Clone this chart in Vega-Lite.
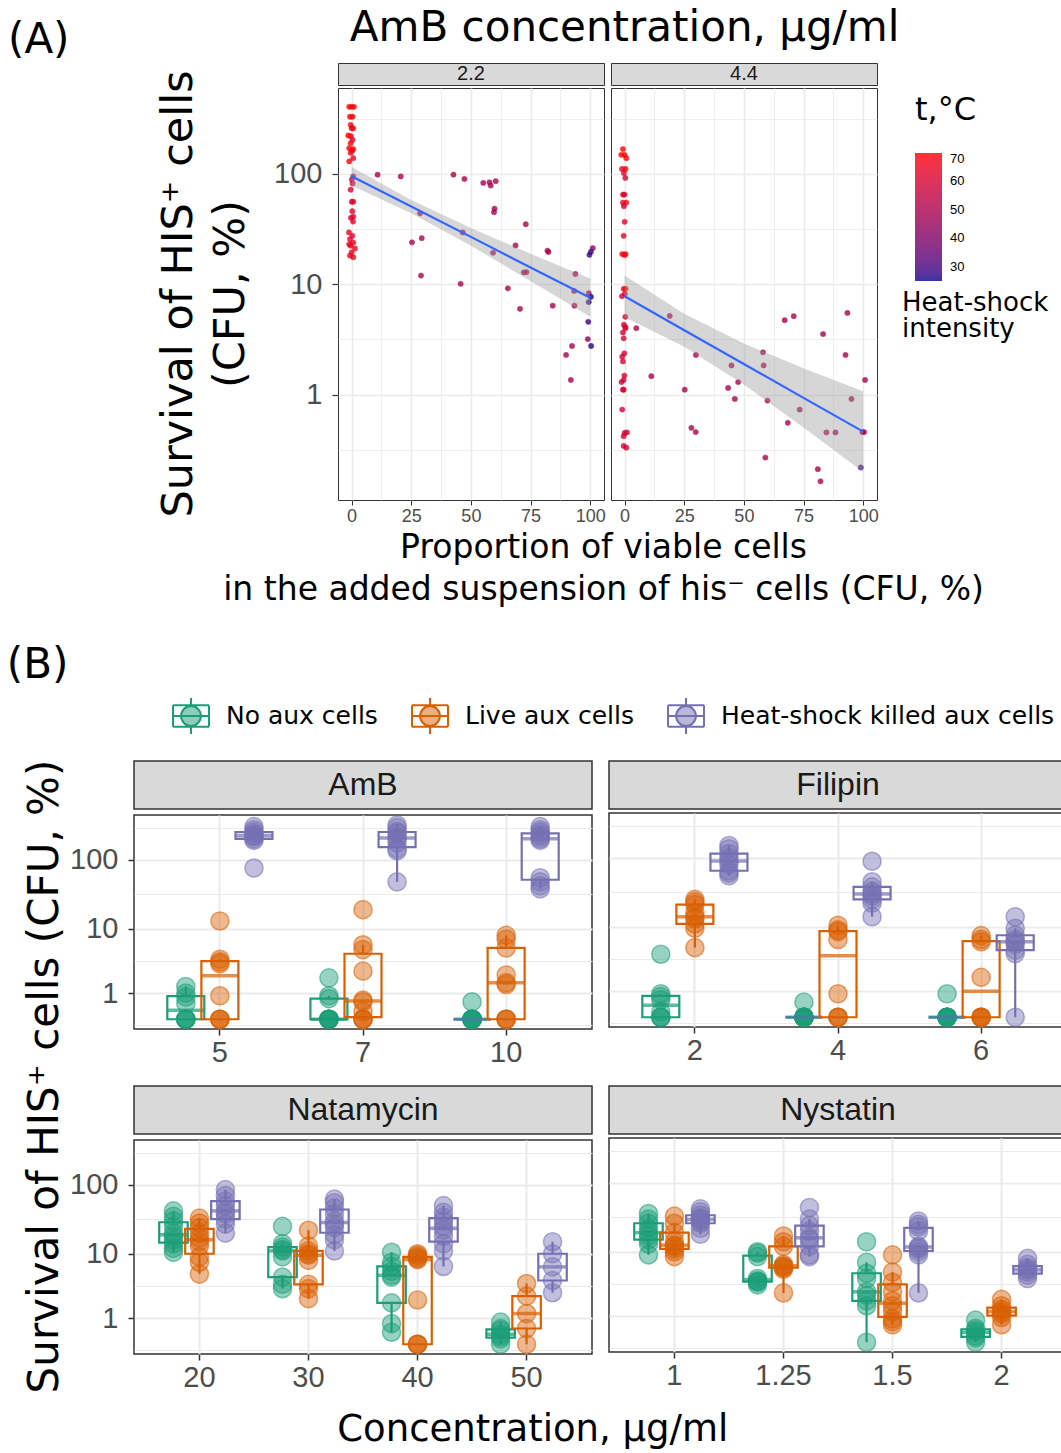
{
"$schema":"https://vega.github.io/schema/vega-lite/v6.json",
"background":"white",
"padding":{"left":6,"top":6,"right":0,"bottom":0},
"config":{"font":"DejaVu Sans","view":{"stroke":null},
"axis":{"labelFont":"Liberation Sans","titleFont":"DejaVu Sans","titleFontWeight":"normal","titleColor":"#000000"},
"title":{"font":"DejaVu Sans","fontWeight":"normal","color":"#000000"},
"legend":{"titleFontWeight":"normal","titleColor":"#000000","titleFont":"DejaVu Sans"}},
"align":"none",
"resolve":{"scale":{"fill":"independent","stroke":"independent"},"legend":{"fill":"independent","stroke":"independent"}},
"spacing":37,
"vconcat":[
{"title":{"text":"(A)","anchor":"start","frame":"group","fontSize":42,"offset":-55,"dx":-126},
"spacing":0,
"resolve":{"scale":{"fill":"independent","stroke":"independent"},"legend":{"fill":"independent","stroke":"independent"}},
"hconcat":[
{"width":24,"height":1,"data":{"values":[]},"mark":{"type":"point"},"encoding":{}},
{"title":{"text":"AmB concentration, µg/ml","anchor":"middle","frame":"bounds","fontSize":42,"offset":13,"dx":21},
"resolve":{"scale":{"fill":"independent","stroke":"independent"},"legend":{"fill":"independent","stroke":"independent"}},
"vconcat":[
{"title":{"text":["Proportion of viable cells","in the added suspension of his⁻ cells (CFU, %)"],"orient":"bottom","anchor":"middle","frame":"bounds","fontSize":33,"lineHeight":42,"offset":6},
"resolve":{"scale":{"fill":"independent","stroke":"independent"},"legend":{"fill":"independent","stroke":"independent"}},
"vconcat":[
{"title":{"text":["Survival of HIS⁺ cells","(CFU, %)"],"orient":"left","anchor":"middle","frame":"bounds","fontSize":43,"lineHeight":52,"offset":20},
"spacing":4,
"hconcat":[
{"spacing":1,"vconcat":[
{"width":266,"height":22,"view":{"fill":"#D9D9D9","stroke":"#333333","strokeWidth":1},"data":{"values":[{"label":"2.2"}]},"mark":{"type":"text","fontSize":20,"font":"Liberation Sans","color":"#1A1A1A"},"encoding":{"text":{"field":"label"}}},
{"width":266,"height":412,"view":{"stroke":"#333333","strokeWidth":1},
"encoding":{"x":{"field":"prop","type":"quantitative","scale":{"domain":[-5.7,105.8],"nice":false,"zero":false},"axis":{"values":[0,12.5,25,37.5,50,62.5,75,87.5,100],"labelExpr":"datum.value % 25 == 0 ? datum.label : ''","labelFontSize":18,"labelColor":"#4D4D4D","labelPadding":2,"labelOverlap":false,"tickColor":"#333333","tickSize":5,"tickOpacity":{"condition":{"test":"datum.value % 25 == 0","value":1},"value":0},"grid":true,"gridColor":"#EBEBEB","gridWidth":{"condition":{"test":"datum.value % 25 == 0","value":1.6},"value":0.8},"domain":false,"title":null}},
"y":{"field":"surv","type":"quantitative","scale":{"type":"log","domain":[0.111,601],"nice":false},"axis":{"values":[0.3162,1,3.162,10,31.62,100,316.2],"format":"d","labelExpr":"datum.value == 1 || datum.value == 10 || datum.value == 100 ? datum.label : ''","labelFontSize":29,"labelColor":"#4D4D4D","labelPadding":10,"labelOverlap":false,"tickColor":"#333333","tickSize":6,"tickWidth":1.2,"tickOpacity":{"condition":{"test":"datum.value == 1 || datum.value == 10 || datum.value == 100","value":1},"value":0},"grid":true,"gridColor":"#EBEBEB","gridWidth":{"condition":{"test":"datum.value == 1 || datum.value == 10 || datum.value == 100","value":1.6},"value":0.8},"domain":false,"title":null}}},
"layer":[
{"data":{"name":"ptsA"},"transform":[{"filter":"datum.conc == '2.2'"}],"mark":{"type":"circle","size":28,"opacity":0.8,"strokeWidth":0.5},
"encoding":{"fill":{"field":"temp","type":"quantitative","scale":{"domain":[25,70],"range":["#00008B","#FF0000"],"interpolate":"lab"},"legend":{"title":"t,°C","orient":"right","type":"gradient","direction":"vertical","gradientLength":128,"gradientThickness":27,"gradientStrokeWidth":0,"titleFontSize":32,"titlePadding":26,"labelFontSize":13,"labelFont":"Liberation Sans","labelColor":"#000000","values":[30,40,50,60,70],"labelOffset":8,"offset":4,"padding":32}},
"stroke":{"field":"temp","type":"quantitative","scale":{"domain":[25,70.0001],"range":["#00008B","#FF0000"],"interpolate":"lab"},"legend":{"title":["Heat-shock","intensity"],"orient":"none","legendX":564,"legendY":227,"type":"gradient","direction":"vertical","gradientLength":1,"gradientThickness":0,"gradientStrokeWidth":0,"labelExpr":"''","labelOpacity":0,"labelFontSize":1,"titleFontSize":26,"titleLineHeight":26,"titlePadding":0}}}},
{"data":{"name":"fitA"},"transform":[{"filter":"datum.conc == '2.2'"}],"mark":{"type":"area","color":"#999999","opacity":0.4},
"encoding":{"y":{"field":"lo","type":"quantitative","scale":{"type":"log","domain":[0.111,601],"nice":false},"axis":{"values":[0.3162,1,3.162,10,31.62,100,316.2],"format":"d","labelExpr":"datum.value == 1 || datum.value == 10 || datum.value == 100 ? datum.label : ''","labelFontSize":29,"labelColor":"#4D4D4D","labelPadding":10,"labelOverlap":false,"tickColor":"#333333","tickSize":6,"tickWidth":1.2,"tickOpacity":{"condition":{"test":"datum.value == 1 || datum.value == 10 || datum.value == 100","value":1},"value":0},"grid":true,"gridColor":"#EBEBEB","gridWidth":{"condition":{"test":"datum.value == 1 || datum.value == 10 || datum.value == 100","value":1.6},"value":0.8},"domain":false,"title":null}},"y2":{"field":"hi"}}},
{"data":{"name":"fitA"},"transform":[{"filter":"datum.conc == '2.2'"}],"mark":{"type":"line","color":"#3366FF","strokeWidth":2.2},"encoding":{}}
]}]},
{"spacing":1,"vconcat":[
{"width":266,"height":22,"view":{"fill":"#D9D9D9","stroke":"#333333","strokeWidth":1},"data":{"values":[{"label":"4.4"}]},"mark":{"type":"text","fontSize":20,"font":"Liberation Sans","color":"#1A1A1A"},"encoding":{"text":{"field":"label"}}},
{"width":266,"height":412,"view":{"stroke":"#333333","strokeWidth":1},
"encoding":{"x":{"field":"prop","type":"quantitative","scale":{"domain":[-5.7,105.8],"nice":false,"zero":false},"axis":{"values":[0,12.5,25,37.5,50,62.5,75,87.5,100],"labelExpr":"datum.value % 25 == 0 ? datum.label : ''","labelFontSize":18,"labelColor":"#4D4D4D","labelPadding":2,"labelOverlap":false,"tickColor":"#333333","tickSize":5,"tickOpacity":{"condition":{"test":"datum.value % 25 == 0","value":1},"value":0},"grid":true,"gridColor":"#EBEBEB","gridWidth":{"condition":{"test":"datum.value % 25 == 0","value":1.6},"value":0.8},"domain":false,"title":null}},
"y":{"field":"surv","type":"quantitative","scale":{"type":"log","domain":[0.111,601],"nice":false},"axis":{"values":[0.3162,1,3.162,10,31.62,100,316.2],"labels":false,"ticks":false,"grid":true,"gridColor":"#EBEBEB","gridWidth":{"condition":{"test":"datum.value == 1 || datum.value == 10 || datum.value == 100","value":1.6},"value":0.8},"domain":false,"title":null}}},
"layer":[
{"data":{"name":"ptsA"},"transform":[{"filter":"datum.conc == '4.4'"}],"mark":{"type":"circle","size":28,"opacity":0.8,"strokeWidth":0.5},
"encoding":{"fill":{"field":"temp","type":"quantitative","scale":{"domain":[25,70],"range":["#00008B","#FF0000"],"interpolate":"lab"},"legend":{"title":"t,°C","orient":"right","type":"gradient","direction":"vertical","gradientLength":128,"gradientThickness":27,"gradientStrokeWidth":0,"titleFontSize":32,"titlePadding":26,"labelFontSize":13,"labelFont":"Liberation Sans","labelColor":"#000000","values":[30,40,50,60,70],"labelOffset":8,"offset":4,"padding":32}},
"stroke":{"field":"temp","type":"quantitative","scale":{"domain":[25,70.0001],"range":["#00008B","#FF0000"],"interpolate":"lab"},"legend":{"title":["Heat-shock","intensity"],"orient":"none","legendX":564,"legendY":227,"type":"gradient","direction":"vertical","gradientLength":1,"gradientThickness":0,"gradientStrokeWidth":0,"labelExpr":"''","labelOpacity":0,"labelFontSize":1,"titleFontSize":26,"titleLineHeight":26,"titlePadding":0}}}},
{"data":{"name":"fitA"},"transform":[{"filter":"datum.conc == '4.4'"}],"mark":{"type":"area","color":"#999999","opacity":0.4},
"encoding":{"y":{"field":"lo","type":"quantitative","scale":{"type":"log","domain":[0.111,601],"nice":false},"axis":{"values":[0.3162,1,3.162,10,31.62,100,316.2],"labels":false,"ticks":false,"grid":true,"gridColor":"#EBEBEB","gridWidth":{"condition":{"test":"datum.value == 1 || datum.value == 10 || datum.value == 100","value":1.6},"value":0.8},"domain":false,"title":null}},"y2":{"field":"hi"}}},
{"data":{"name":"fitA"},"transform":[{"filter":"datum.conc == '4.4'"}],"mark":{"type":"line","color":"#3366FF","strokeWidth":2.2},"encoding":{}}
]}]}
]}]}]}]},
{"title":{"text":"(B)","anchor":"start","frame":"bounds","fontSize":42,"offset":10,"dx":-17},
"vconcat":[
{"title":{"text":"Concentration, µg/ml","orient":"bottom","anchor":"middle","frame":"bounds","fontSize":37,"offset":12,"dx":-13},
"vconcat":[
{"title":{"text":"Survival of HIS⁺ cells  (CFU, %)","orient":"left","anchor":"middle","frame":"bounds","fontSize":42,"offset":2},
"spacing":17,
"resolve":{"scale":{"xOffset":"independent"}},
"vconcat":[
{"spacing":15,"resolve":{"scale":{"xOffset":"independent"}},"hconcat":[
{"spacing":2,"vconcat":[
{"width":458,"height":48,"view":{"fill":"#D9D9D9","stroke":"#333333","strokeWidth":1.5},"data":{"values":[{"label":"AmB"}]},"mark":{"type":"text","fontSize":32,"font":"Liberation Sans","color":"#1A1A1A"},"encoding":{"text":{"field":"label"}}},
{"width":458,"height":214,"view":{"stroke":"#333333","strokeWidth":1.5},"data":{"name":"ptsB"},"transform":[{"filter":"datum.drug == 'AmB'"}],
"encoding":{"x":{"field":"conc","type":"nominal","scale":{"type":"band","domain":["5","7","10"],"paddingInner":0,"paddingOuter":0.1},"axis":{"labelFontSize":29,"labelColor":"#4D4D4D","labelPadding":3,"labelAngle":0,"tickColor":"#333333","tickSize":6,"tickWidth":1.5,"bandPosition":0.5,"grid":true,"gridColor":"#EBEBEB","gridWidth":2,"domain":false,"title":null}},
"xOffset":{"field":"aux","type":"nominal","scale":{"type":"band","domain":["No aux cells","Live aux cells","Heat-shock killed aux cells"],"paddingInner":0,"paddingOuter":0.6}},
"y":{"field":"surv","type":"quantitative","scale":{"type":"symlog","constant":0.21,"domain":[0.1594,441],"nice":false,"zero":false},"axis":{"values":[0.2066,1,3.305,10,31.8,100,290.9],"format":"d","labelExpr":"datum.value == 1 || datum.value == 10 || datum.value == 100 ? datum.label : ''","labelFontSize":29,"labelColor":"#4D4D4D","labelPadding":10,"labelOverlap":false,"tickColor":"#333333","tickSize":6,"tickWidth":1.5,"tickOpacity":{"condition":{"test":"datum.value == 1 || datum.value == 10 || datum.value == 100","value":1},"value":0},"grid":true,"gridColor":"#EBEBEB","gridWidth":{"condition":{"test":"datum.value == 1 || datum.value == 10 || datum.value == 100","value":2},"value":1.1},"domain":false,"title":null}}},
"layer":[
{"mark":{"type":"circle","size":330,"fillOpacity":0.45,"strokeOpacity":0.55,"strokeWidth":1.5},"encoding":{
"fill":{"field":"aux","type":"nominal","scale":{"domain":["No aux cells","Live aux cells","Heat-shock killed aux cells"],"range":["#1B9E77","#D95F02","#7570B3"]},"legend":{"title":null,"orient":"none","legendX":38,"legendY":-64,"direction":"horizontal","symbolType":"M-1,-0.6H1M1,-0.6V0.6M1,0.6H-1M-1,0.6V-0.6M-1,0H1M0,-0.6V-1M0,0.6V1M0.55,0A0.55,0.55,0,1,1,-0.55,0A0.55,0.55,0,1,1,0.55,0Z","symbolSize":1296,"symbolStrokeWidth":2,"labelFontSize":25,"labelFont":"DejaVu Sans","labelColor":"#000000","labelOffset":16,"labelLimit":0,"columnPadding":30,"encode":{"symbols":{"update":{"fillOpacity":{"value":0.5},"strokeOpacity":{"value":1}}}}}},
"stroke":{"field":"aux","type":"nominal","scale":{"domain":["No aux cells","Live aux cells","Heat-shock killed aux cells"],"range":["#1B9E77","#D95F02","#7570B3"]},"legend":{"title":null,"orient":"none","legendX":38,"legendY":-64,"direction":"horizontal","symbolType":"M-1,-0.6H1M1,-0.6V0.6M1,0.6H-1M-1,0.6V-0.6M-1,0H1M0,-0.6V-1M0,0.6V1M0.55,0A0.55,0.55,0,1,1,-0.55,0A0.55,0.55,0,1,1,0.55,0Z","symbolSize":1296,"symbolStrokeWidth":2,"labelFontSize":25,"labelFont":"DejaVu Sans","labelColor":"#000000","labelOffset":16,"labelLimit":0,"columnPadding":30,"encode":{"symbols":{"update":{"fillOpacity":{"value":0.5},"strokeOpacity":{"value":1}}}}}}}},
{"transform":[{"filter":"datum.aux == 'No aux cells'"}],"mark":{"type":"boxplot","extent":1.5,"size":37,"outliers":false,"box":{"color":"#1B9E77","fillOpacity":0,"stroke":"#1B9E77","strokeWidth":2.2},"median":{"color":"#1B9E77","thickness":3.5},"rule":{"color":"#1B9E77","strokeWidth":2.2}}},
{"transform":[{"filter":"datum.aux == 'Live aux cells'"}],"mark":{"type":"boxplot","extent":1.5,"size":37,"outliers":false,"box":{"color":"#D95F02","fillOpacity":0,"stroke":"#D95F02","strokeWidth":2.2},"median":{"color":"#D95F02","thickness":3.5},"rule":{"color":"#D95F02","strokeWidth":2.2}}},
{"transform":[{"filter":"datum.aux == 'Heat-shock killed aux cells'"}],"mark":{"type":"boxplot","extent":1.5,"size":37,"outliers":false,"box":{"color":"#7570B3","fillOpacity":0,"stroke":"#7570B3","strokeWidth":2.2},"median":{"color":"#7570B3","thickness":3.5},"rule":{"color":"#7570B3","strokeWidth":2.2}}}
]}]},
{"spacing":2,"vconcat":[
{"width":458,"height":48,"view":{"fill":"#D9D9D9","stroke":"#333333","strokeWidth":1.5},"data":{"values":[{"label":"Filipin"}]},"mark":{"type":"text","fontSize":32,"font":"Liberation Sans","color":"#1A1A1A"},"encoding":{"text":{"field":"label"}}},
{"width":458,"height":214,"view":{"stroke":"#333333","strokeWidth":1.5},"data":{"name":"ptsB"},"transform":[{"filter":"datum.drug == 'Filipin'"}],
"encoding":{"x":{"field":"conc","type":"nominal","scale":{"type":"band","domain":["2","4","6"],"paddingInner":0,"paddingOuter":0.1},"axis":{"labelFontSize":29,"labelColor":"#4D4D4D","labelPadding":3,"labelAngle":0,"tickColor":"#333333","tickSize":6,"tickWidth":1.5,"bandPosition":0.5,"grid":true,"gridColor":"#EBEBEB","gridWidth":2,"domain":false,"title":null}},
"xOffset":{"field":"aux","type":"nominal","scale":{"type":"band","domain":["No aux cells","Live aux cells","Heat-shock killed aux cells"],"paddingInner":0,"paddingOuter":0.6}},
"y":{"field":"surv","type":"quantitative","scale":{"type":"symlog","constant":0.21,"domain":[0.1594,441],"nice":false,"zero":false},"axis":{"values":[0.2066,1,3.305,10,31.8,100,290.9],"labels":false,"ticks":false,"grid":true,"gridColor":"#EBEBEB","gridWidth":{"condition":{"test":"datum.value == 1 || datum.value == 10 || datum.value == 100","value":2},"value":1.1},"domain":false,"title":null}}},
"layer":[
{"mark":{"type":"circle","size":330,"fillOpacity":0.45,"strokeOpacity":0.55,"strokeWidth":1.5},"encoding":{
"fill":{"field":"aux","type":"nominal","scale":{"domain":["No aux cells","Live aux cells","Heat-shock killed aux cells"],"range":["#1B9E77","#D95F02","#7570B3"]},"legend":{"title":null,"orient":"none","legendX":38,"legendY":-64,"direction":"horizontal","symbolType":"M-1,-0.6H1M1,-0.6V0.6M1,0.6H-1M-1,0.6V-0.6M-1,0H1M0,-0.6V-1M0,0.6V1M0.55,0A0.55,0.55,0,1,1,-0.55,0A0.55,0.55,0,1,1,0.55,0Z","symbolSize":1296,"symbolStrokeWidth":2,"labelFontSize":25,"labelFont":"DejaVu Sans","labelColor":"#000000","labelOffset":16,"labelLimit":0,"columnPadding":30,"encode":{"symbols":{"update":{"fillOpacity":{"value":0.5},"strokeOpacity":{"value":1}}}}}},
"stroke":{"field":"aux","type":"nominal","scale":{"domain":["No aux cells","Live aux cells","Heat-shock killed aux cells"],"range":["#1B9E77","#D95F02","#7570B3"]},"legend":{"title":null,"orient":"none","legendX":38,"legendY":-64,"direction":"horizontal","symbolType":"M-1,-0.6H1M1,-0.6V0.6M1,0.6H-1M-1,0.6V-0.6M-1,0H1M0,-0.6V-1M0,0.6V1M0.55,0A0.55,0.55,0,1,1,-0.55,0A0.55,0.55,0,1,1,0.55,0Z","symbolSize":1296,"symbolStrokeWidth":2,"labelFontSize":25,"labelFont":"DejaVu Sans","labelColor":"#000000","labelOffset":16,"labelLimit":0,"columnPadding":30,"encode":{"symbols":{"update":{"fillOpacity":{"value":0.5},"strokeOpacity":{"value":1}}}}}}}},
{"transform":[{"filter":"datum.aux == 'No aux cells'"}],"mark":{"type":"boxplot","extent":1.5,"size":37,"outliers":false,"box":{"color":"#1B9E77","fillOpacity":0,"stroke":"#1B9E77","strokeWidth":2.2},"median":{"color":"#1B9E77","thickness":3.5},"rule":{"color":"#1B9E77","strokeWidth":2.2}}},
{"transform":[{"filter":"datum.aux == 'Live aux cells'"}],"mark":{"type":"boxplot","extent":1.5,"size":37,"outliers":false,"box":{"color":"#D95F02","fillOpacity":0,"stroke":"#D95F02","strokeWidth":2.2},"median":{"color":"#D95F02","thickness":3.5},"rule":{"color":"#D95F02","strokeWidth":2.2}}},
{"transform":[{"filter":"datum.aux == 'Heat-shock killed aux cells'"}],"mark":{"type":"boxplot","extent":1.5,"size":37,"outliers":false,"box":{"color":"#7570B3","fillOpacity":0,"stroke":"#7570B3","strokeWidth":2.2},"median":{"color":"#7570B3","thickness":3.5},"rule":{"color":"#7570B3","strokeWidth":2.2}}}
]}]}
]},
{"spacing":15,"resolve":{"scale":{"xOffset":"independent"}},"hconcat":[
{"spacing":2,"vconcat":[
{"width":458,"height":48,"view":{"fill":"#D9D9D9","stroke":"#333333","strokeWidth":1.5},"data":{"values":[{"label":"Natamycin"}]},"mark":{"type":"text","fontSize":32,"font":"Liberation Sans","color":"#1A1A1A"},"encoding":{"text":{"field":"label"}}},
{"width":458,"height":214,"view":{"stroke":"#333333","strokeWidth":1.5},"data":{"name":"ptsB"},"transform":[{"filter":"datum.drug == 'Natamycin'"}],
"encoding":{"x":{"field":"conc","type":"nominal","scale":{"type":"band","domain":["20","30","40","50"],"paddingInner":0,"paddingOuter":0.1},"axis":{"labelFontSize":29,"labelColor":"#4D4D4D","labelPadding":3,"labelAngle":0,"tickColor":"#333333","tickSize":6,"tickWidth":1.5,"bandPosition":0.5,"grid":true,"gridColor":"#EBEBEB","gridWidth":2,"domain":false,"title":null}},
"xOffset":{"field":"aux","type":"nominal","scale":{"type":"band","domain":["No aux cells","Live aux cells","Heat-shock killed aux cells"],"paddingInner":0,"paddingOuter":0.6}},
"y":{"field":"surv","type":"quantitative","scale":{"type":"symlog","constant":0.21,"domain":[0.1594,441],"nice":false,"zero":false},"axis":{"values":[0.2066,1,3.305,10,31.8,100,290.9],"format":"d","labelExpr":"datum.value == 1 || datum.value == 10 || datum.value == 100 ? datum.label : ''","labelFontSize":29,"labelColor":"#4D4D4D","labelPadding":10,"labelOverlap":false,"tickColor":"#333333","tickSize":6,"tickWidth":1.5,"tickOpacity":{"condition":{"test":"datum.value == 1 || datum.value == 10 || datum.value == 100","value":1},"value":0},"grid":true,"gridColor":"#EBEBEB","gridWidth":{"condition":{"test":"datum.value == 1 || datum.value == 10 || datum.value == 100","value":2},"value":1.1},"domain":false,"title":null}}},
"layer":[
{"mark":{"type":"circle","size":330,"fillOpacity":0.45,"strokeOpacity":0.55,"strokeWidth":1.5},"encoding":{
"fill":{"field":"aux","type":"nominal","scale":{"domain":["No aux cells","Live aux cells","Heat-shock killed aux cells"],"range":["#1B9E77","#D95F02","#7570B3"]},"legend":{"title":null,"orient":"none","legendX":38,"legendY":-64,"direction":"horizontal","symbolType":"M-1,-0.6H1M1,-0.6V0.6M1,0.6H-1M-1,0.6V-0.6M-1,0H1M0,-0.6V-1M0,0.6V1M0.55,0A0.55,0.55,0,1,1,-0.55,0A0.55,0.55,0,1,1,0.55,0Z","symbolSize":1296,"symbolStrokeWidth":2,"labelFontSize":25,"labelFont":"DejaVu Sans","labelColor":"#000000","labelOffset":16,"labelLimit":0,"columnPadding":30,"encode":{"symbols":{"update":{"fillOpacity":{"value":0.5},"strokeOpacity":{"value":1}}}}}},
"stroke":{"field":"aux","type":"nominal","scale":{"domain":["No aux cells","Live aux cells","Heat-shock killed aux cells"],"range":["#1B9E77","#D95F02","#7570B3"]},"legend":{"title":null,"orient":"none","legendX":38,"legendY":-64,"direction":"horizontal","symbolType":"M-1,-0.6H1M1,-0.6V0.6M1,0.6H-1M-1,0.6V-0.6M-1,0H1M0,-0.6V-1M0,0.6V1M0.55,0A0.55,0.55,0,1,1,-0.55,0A0.55,0.55,0,1,1,0.55,0Z","symbolSize":1296,"symbolStrokeWidth":2,"labelFontSize":25,"labelFont":"DejaVu Sans","labelColor":"#000000","labelOffset":16,"labelLimit":0,"columnPadding":30,"encode":{"symbols":{"update":{"fillOpacity":{"value":0.5},"strokeOpacity":{"value":1}}}}}}}},
{"transform":[{"filter":"datum.aux == 'No aux cells'"}],"mark":{"type":"boxplot","extent":1.5,"size":28.5,"outliers":false,"box":{"color":"#1B9E77","fillOpacity":0,"stroke":"#1B9E77","strokeWidth":2.2},"median":{"color":"#1B9E77","thickness":3.5},"rule":{"color":"#1B9E77","strokeWidth":2.2}}},
{"transform":[{"filter":"datum.aux == 'Live aux cells'"}],"mark":{"type":"boxplot","extent":1.5,"size":28.5,"outliers":false,"box":{"color":"#D95F02","fillOpacity":0,"stroke":"#D95F02","strokeWidth":2.2},"median":{"color":"#D95F02","thickness":3.5},"rule":{"color":"#D95F02","strokeWidth":2.2}}},
{"transform":[{"filter":"datum.aux == 'Heat-shock killed aux cells'"}],"mark":{"type":"boxplot","extent":1.5,"size":28.5,"outliers":false,"box":{"color":"#7570B3","fillOpacity":0,"stroke":"#7570B3","strokeWidth":2.2},"median":{"color":"#7570B3","thickness":3.5},"rule":{"color":"#7570B3","strokeWidth":2.2}}}
]}]},
{"spacing":2,"vconcat":[
{"width":458,"height":48,"view":{"fill":"#D9D9D9","stroke":"#333333","strokeWidth":1.5},"data":{"values":[{"label":"Nystatin"}]},"mark":{"type":"text","fontSize":32,"font":"Liberation Sans","color":"#1A1A1A"},"encoding":{"text":{"field":"label"}}},
{"width":458,"height":214,"view":{"stroke":"#333333","strokeWidth":1.5},"data":{"name":"ptsB"},"transform":[{"filter":"datum.drug == 'Nystatin'"}],
"encoding":{"x":{"field":"conc","type":"nominal","scale":{"type":"band","domain":["1","1.25","1.5","2"],"paddingInner":0,"paddingOuter":0.1},"axis":{"labelFontSize":29,"labelColor":"#4D4D4D","labelPadding":3,"labelAngle":0,"tickColor":"#333333","tickSize":6,"tickWidth":1.5,"bandPosition":0.5,"grid":true,"gridColor":"#EBEBEB","gridWidth":2,"domain":false,"title":null}},
"xOffset":{"field":"aux","type":"nominal","scale":{"type":"band","domain":["No aux cells","Live aux cells","Heat-shock killed aux cells"],"paddingInner":0,"paddingOuter":0.6}},
"y":{"field":"surv","type":"quantitative","scale":{"type":"symlog","constant":0.21,"domain":[0.1594,441],"nice":false,"zero":false},"axis":{"values":[0.2066,1,3.305,10,31.8,100,290.9],"labels":false,"ticks":false,"grid":true,"gridColor":"#EBEBEB","gridWidth":{"condition":{"test":"datum.value == 1 || datum.value == 10 || datum.value == 100","value":2},"value":1.1},"domain":false,"title":null}}},
"layer":[
{"mark":{"type":"circle","size":330,"fillOpacity":0.45,"strokeOpacity":0.55,"strokeWidth":1.5},"encoding":{
"fill":{"field":"aux","type":"nominal","scale":{"domain":["No aux cells","Live aux cells","Heat-shock killed aux cells"],"range":["#1B9E77","#D95F02","#7570B3"]},"legend":{"title":null,"orient":"none","legendX":38,"legendY":-64,"direction":"horizontal","symbolType":"M-1,-0.6H1M1,-0.6V0.6M1,0.6H-1M-1,0.6V-0.6M-1,0H1M0,-0.6V-1M0,0.6V1M0.55,0A0.55,0.55,0,1,1,-0.55,0A0.55,0.55,0,1,1,0.55,0Z","symbolSize":1296,"symbolStrokeWidth":2,"labelFontSize":25,"labelFont":"DejaVu Sans","labelColor":"#000000","labelOffset":16,"labelLimit":0,"columnPadding":30,"encode":{"symbols":{"update":{"fillOpacity":{"value":0.5},"strokeOpacity":{"value":1}}}}}},
"stroke":{"field":"aux","type":"nominal","scale":{"domain":["No aux cells","Live aux cells","Heat-shock killed aux cells"],"range":["#1B9E77","#D95F02","#7570B3"]},"legend":{"title":null,"orient":"none","legendX":38,"legendY":-64,"direction":"horizontal","symbolType":"M-1,-0.6H1M1,-0.6V0.6M1,0.6H-1M-1,0.6V-0.6M-1,0H1M0,-0.6V-1M0,0.6V1M0.55,0A0.55,0.55,0,1,1,-0.55,0A0.55,0.55,0,1,1,0.55,0Z","symbolSize":1296,"symbolStrokeWidth":2,"labelFontSize":25,"labelFont":"DejaVu Sans","labelColor":"#000000","labelOffset":16,"labelLimit":0,"columnPadding":30,"encode":{"symbols":{"update":{"fillOpacity":{"value":0.5},"strokeOpacity":{"value":1}}}}}}}},
{"transform":[{"filter":"datum.aux == 'No aux cells'"}],"mark":{"type":"boxplot","extent":1.5,"size":28.5,"outliers":false,"box":{"color":"#1B9E77","fillOpacity":0,"stroke":"#1B9E77","strokeWidth":2.2},"median":{"color":"#1B9E77","thickness":3.5},"rule":{"color":"#1B9E77","strokeWidth":2.2}}},
{"transform":[{"filter":"datum.aux == 'Live aux cells'"}],"mark":{"type":"boxplot","extent":1.5,"size":28.5,"outliers":false,"box":{"color":"#D95F02","fillOpacity":0,"stroke":"#D95F02","strokeWidth":2.2},"median":{"color":"#D95F02","thickness":3.5},"rule":{"color":"#D95F02","strokeWidth":2.2}}},
{"transform":[{"filter":"datum.aux == 'Heat-shock killed aux cells'"}],"mark":{"type":"boxplot","extent":1.5,"size":28.5,"outliers":false,"box":{"color":"#7570B3","fillOpacity":0,"stroke":"#7570B3","strokeWidth":2.2},"median":{"color":"#7570B3","thickness":3.5},"rule":{"color":"#7570B3","strokeWidth":2.2}}}
]}]}
]}
]}]}]}
],
"datasets":{
"fitA":[
{"conc":"2.2","prop":0,"surv":95.3,"lo":78.5,"hi":115.6},{"conc":"2.2","prop":25,"surv":50.6,"lo":44.1,"hi":58.1},{"conc":"2.2","prop":50,"surv":26.9,"lo":22.4,"hi":32.3},{"conc":"2.2","prop":75,"surv":14.2,"lo":10.7,"hi":18.9},{"conc":"2.2","prop":100,"surv":7.56,"lo":5.07,"hi":11.3},
{"conc":"4.4","prop":0,"surv":7.78,"lo":5.03,"hi":12.0},{"conc":"4.4","prop":25,"surv":3.84,"lo":2.72,"hi":5.42},{"conc":"4.4","prop":50,"surv":1.894,"lo":1.235,"hi":2.905},{"conc":"4.4","prop":75,"surv":0.935,"lo":0.505,"hi":1.732},{"conc":"4.4","prop":100,"surv":0.462,"lo":0.199,"hi":1.072}],
"ptsA":[
{"conc":"2.2","prop":-1,"surv":406,"temp":70},{"conc":"2.2","prop":0,"surv":406,"temp":70},{"conc":"2.2","prop":1,"surv":406,"temp":70},{"conc":"2.2","prop":-0.7,"surv":330,"temp":70},{"conc":"2.2","prop":0.4,"surv":330,"temp":70},{"conc":"2.2","prop":-0.4,"surv":278,"temp":68},{"conc":"2.2","prop":0.7,"surv":259,"temp":70},{"conc":"2.2","prop":0,"surv":259,"temp":66},{"conc":"2.2","prop":-1.4,"surv":223,"temp":70},{"conc":"2.2","prop":-0.3,"surv":220,"temp":68},{"conc":"2.2","prop":0.4,"surv":204,"temp":62},{"conc":"2.2","prop":-0.4,"surv":190,"temp":70},{"conc":"2.2","prop":-1,"surv":171,"temp":70},{"conc":"2.2","prop":0.7,"surv":168,"temp":70},{"conc":"2.2","prop":0.3,"surv":163,"temp":68},{"conc":"2.2","prop":-0.4,"surv":155,"temp":66},{"conc":"2.2","prop":0.7,"surv":139,"temp":64},{"conc":"2.2","prop":-1,"surv":130,"temp":70},{"conc":"2.2","prop":0.7,"surv":95,"temp":58},{"conc":"2.2","prop":0.1,"surv":89,"temp":58},{"conc":"2.2","prop":0.4,"surv":82,"temp":60},{"conc":"2.2","prop":-0.4,"surv":72,"temp":62},{"conc":"2.2","prop":0.1,"surv":56,"temp":62},{"conc":"2.2","prop":0.7,"surv":56,"temp":64},{"conc":"2.2","prop":0.3,"surv":46,"temp":62},{"conc":"2.2","prop":0.7,"surv":41,"temp":64},{"conc":"2.2","prop":-0.3,"surv":40,"temp":62},{"conc":"2.2","prop":0.6,"surv":37,"temp":64},{"conc":"2.2","prop":-1.1,"surv":29.5,"temp":66},{"conc":"2.2","prop":0.3,"surv":27.5,"temp":64},{"conc":"2.2","prop":-0.7,"surv":25.7,"temp":66},{"conc":"2.2","prop":0.7,"surv":23.9,"temp":64},{"conc":"2.2","prop":-1,"surv":23.1,"temp":66},{"conc":"2.2","prop":-0.4,"surv":22.4,"temp":64},{"conc":"2.2","prop":1.4,"surv":21.1,"temp":66},{"conc":"2.2","prop":0,"surv":19.5,"temp":64},{"conc":"2.2","prop":-0.7,"surv":18.2,"temp":66},{"conc":"2.2","prop":0.7,"surv":17.6,"temp":66},
{"conc":"2.2","prop":10.9,"surv":98.6,"temp":50},{"conc":"2.2","prop":20.6,"surv":95,"temp":50},{"conc":"2.2","prop":42.7,"surv":98.6,"temp":50},{"conc":"2.2","prop":47.3,"surv":90,"temp":50},{"conc":"2.2","prop":55.2,"surv":83,"temp":50},{"conc":"2.2","prop":57.8,"surv":84,"temp":50},{"conc":"2.2","prop":58.3,"surv":78.5,"temp":50},{"conc":"2.2","prop":60.4,"surv":86,"temp":50},{"conc":"2.2","prop":28.7,"surv":44,"temp":50},{"conc":"2.2","prop":59.9,"surv":48.5,"temp":50},{"conc":"2.2","prop":59.7,"surv":45,"temp":50},{"conc":"2.2","prop":73,"surv":35,"temp":50},{"conc":"2.2","prop":46.6,"surv":29.5,"temp":50},{"conc":"2.2","prop":25.3,"surv":24,"temp":50},{"conc":"2.2","prop":29.4,"surv":26.2,"temp":50},{"conc":"2.2","prop":68.7,"surv":22.5,"temp":50},{"conc":"2.2","prop":59.3,"surv":19.3,"temp":50},{"conc":"2.2","prop":82.1,"surv":20.2,"temp":50},{"conc":"2.2","prop":82.5,"surv":19.6,"temp":50},{"conc":"2.2","prop":29.1,"surv":12,"temp":50},{"conc":"2.2","prop":45.7,"surv":10.1,"temp":50},{"conc":"2.2","prop":72.2,"surv":12.8,"temp":50},{"conc":"2.2","prop":73.3,"surv":12.9,"temp":50},{"conc":"2.2","prop":93.8,"surv":12.4,"temp":50},{"conc":"2.2","prop":65.5,"surv":9.2,"temp":50},{"conc":"2.2","prop":93.3,"surv":8.7,"temp":50},{"conc":"2.2","prop":84.3,"surv":6.4,"temp":50},{"conc":"2.2","prop":70.6,"surv":6,"temp":50},{"conc":"2.2","prop":93.4,"surv":6.4,"temp":50},{"conc":"2.2","prop":92.4,"surv":2.76,"temp":50},{"conc":"2.2","prop":89.9,"surv":2.29,"temp":50},{"conc":"2.2","prop":91.9,"surv":1.36,"temp":50},
{"conc":"2.2","prop":101.1,"surv":21.3,"temp":45},{"conc":"2.2","prop":100.3,"surv":19.7,"temp":28},{"conc":"2.2","prop":99.7,"surv":18.5,"temp":28},{"conc":"2.2","prop":99.4,"surv":8.3,"temp":45},{"conc":"2.2","prop":100.3,"surv":7.7,"temp":25},{"conc":"2.2","prop":99.4,"surv":6.9,"temp":27},{"conc":"2.2","prop":99.2,"surv":4.57,"temp":28},{"conc":"2.2","prop":99,"surv":3.19,"temp":42},{"conc":"2.2","prop":100.4,"surv":2.76,"temp":27},
{"conc":"4.4","prop":-0.7,"surv":168,"temp":70},{"conc":"4.4","prop":-1.4,"surv":149,"temp":70},{"conc":"4.4","prop":0,"surv":149,"temp":70},{"conc":"4.4","prop":0.7,"surv":139,"temp":70},{"conc":"4.4","prop":-1.1,"surv":111,"temp":66},{"conc":"4.4","prop":0.4,"surv":111,"temp":70},{"conc":"4.4","prop":-0.3,"surv":102,"temp":62},{"conc":"4.4","prop":0.3,"surv":92,"temp":60},{"conc":"4.4","prop":-0.7,"surv":65,"temp":62},{"conc":"4.4","prop":0,"surv":65,"temp":60},{"conc":"4.4","prop":-0.7,"surv":55,"temp":68},{"conc":"4.4","prop":0.7,"surv":55,"temp":68},{"conc":"4.4","prop":-0.3,"surv":51,"temp":60},{"conc":"4.4","prop":0,"surv":36.8,"temp":64},{"conc":"4.4","prop":-0.4,"surv":27.5,"temp":64},{"conc":"4.4","prop":-1,"surv":18.8,"temp":70},{"conc":"4.4","prop":0,"surv":18.4,"temp":70},{"conc":"4.4","prop":0.4,"surv":18.8,"temp":68},{"conc":"4.4","prop":-0.4,"surv":9.1,"temp":68},{"conc":"4.4","prop":0.4,"surv":9.1,"temp":70},{"conc":"4.4","prop":-1.1,"surv":7.8,"temp":62},{"conc":"4.4","prop":0.1,"surv":8.2,"temp":60},{"conc":"4.4","prop":0.3,"surv":5.07,"temp":62},{"conc":"4.4","prop":-0.3,"surv":4.3,"temp":62},{"conc":"4.4","prop":0.3,"surv":4.1,"temp":60},{"conc":"4.4","prop":0.4,"surv":4,"temp":62},{"conc":"4.4","prop":-0.7,"surv":3.66,"temp":60},{"conc":"4.4","prop":-0.4,"surv":3.24,"temp":60},{"conc":"4.4","prop":-0.1,"surv":2.37,"temp":60},{"conc":"4.4","prop":-1,"surv":2.21,"temp":60},{"conc":"4.4","prop":-0.7,"surv":2,"temp":60},{"conc":"4.4","prop":-0.1,"surv":1.49,"temp":62},{"conc":"4.4","prop":-0.4,"surv":1.36,"temp":60},{"conc":"4.4","prop":-1.3,"surv":1.3,"temp":60},{"conc":"4.4","prop":-0.7,"surv":1.11,"temp":60},{"conc":"4.4","prop":-0.4,"surv":1.11,"temp":62},{"conc":"4.4","prop":-1,"surv":0.733,"temp":60},{"conc":"4.4","prop":0,"surv":0.45,"temp":62},{"conc":"4.4","prop":1,"surv":0.455,"temp":60},{"conc":"4.4","prop":-0.4,"surv":0.42,"temp":60},{"conc":"4.4","prop":-0.4,"surv":0.343,"temp":60},{"conc":"4.4","prop":0.7,"surv":0.331,"temp":60},
{"conc":"4.4","prop":4.9,"surv":4,"temp":50},{"conc":"4.4","prop":11.2,"surv":1.47,"temp":50},{"conc":"4.4","prop":18.9,"surv":5.17,"temp":50},{"conc":"4.4","prop":29.9,"surv":2.29,"temp":50},{"conc":"4.4","prop":25.2,"surv":1.11,"temp":50},{"conc":"4.4","prop":28,"surv":0.5,"temp":50},{"conc":"4.4","prop":29.8,"surv":0.458,"temp":50},{"conc":"4.4","prop":44.8,"surv":1.84,"temp":50},{"conc":"4.4","prop":43.4,"surv":1.15,"temp":50},{"conc":"4.4","prop":47.6,"surv":1.3,"temp":50},{"conc":"4.4","prop":46.2,"surv":0.914,"temp":50},{"conc":"4.4","prop":58,"surv":2.42,"temp":50},{"conc":"4.4","prop":58.3,"surv":1.84,"temp":50},{"conc":"4.4","prop":59.9,"surv":0.883,"temp":50},{"conc":"4.4","prop":59,"surv":0.269,"temp":50},{"conc":"4.4","prop":67.1,"surv":4.73,"temp":50},{"conc":"4.4","prop":70.9,"surv":5.14,"temp":50},{"conc":"4.4","prop":68.4,"surv":0.556,"temp":50},{"conc":"4.4","prop":73.4,"surv":0.733,"temp":50},{"conc":"4.4","prop":83.2,"surv":3.54,"temp":50},{"conc":"4.4","prop":84.6,"surv":0.455,"temp":50},{"conc":"4.4","prop":88.4,"surv":0.455,"temp":50},{"conc":"4.4","prop":93.4,"surv":5.5,"temp":50},{"conc":"4.4","prop":92.6,"surv":2.29,"temp":50},{"conc":"4.4","prop":95.1,"surv":0.914,"temp":50},{"conc":"4.4","prop":81,"surv":0.211,"temp":50},{"conc":"4.4","prop":82.1,"surv":0.164,"temp":50},{"conc":"4.4","prop":100.8,"surv":1.36,"temp":50},
{"conc":"4.4","prop":99.7,"surv":0.458,"temp":45},{"conc":"4.4","prop":100.4,"surv":0.458,"temp":48},{"conc":"4.4","prop":99,"surv":0.219,"temp":30}],
"ptsB":[
{"drug":"AmB","conc":"5","aux":"No aux cells","surv":1.3},{"drug":"AmB","conc":"5","aux":"No aux cells","surv":1.0},{"drug":"AmB","conc":"5","aux":"No aux cells","surv":0.85},{"drug":"AmB","conc":"5","aux":"No aux cells","surv":0.65},{"drug":"AmB","conc":"5","aux":"No aux cells","surv":0.3},{"drug":"AmB","conc":"5","aux":"No aux cells","surv":0.3},{"drug":"AmB","conc":"5","aux":"No aux cells","surv":0.3},{"drug":"AmB","conc":"5","aux":"No aux cells","surv":0.3},
{"drug":"AmB","conc":"5","aux":"Live aux cells","surv":13},{"drug":"AmB","conc":"5","aux":"Live aux cells","surv":3.5},{"drug":"AmB","conc":"5","aux":"Live aux cells","surv":3.2},{"drug":"AmB","conc":"5","aux":"Live aux cells","surv":3.0},{"drug":"AmB","conc":"5","aux":"Live aux cells","surv":0.9},{"drug":"AmB","conc":"5","aux":"Live aux cells","surv":0.3},{"drug":"AmB","conc":"5","aux":"Live aux cells","surv":0.3},{"drug":"AmB","conc":"5","aux":"Live aux cells","surv":0.3},
{"drug":"AmB","conc":"5","aux":"Heat-shock killed aux cells","surv":300},{"drug":"AmB","conc":"5","aux":"Heat-shock killed aux cells","surv":270},{"drug":"AmB","conc":"5","aux":"Heat-shock killed aux cells","surv":250},{"drug":"AmB","conc":"5","aux":"Heat-shock killed aux cells","surv":235},{"drug":"AmB","conc":"5","aux":"Heat-shock killed aux cells","surv":222},{"drug":"AmB","conc":"5","aux":"Heat-shock killed aux cells","surv":215},{"drug":"AmB","conc":"5","aux":"Heat-shock killed aux cells","surv":200},{"drug":"AmB","conc":"5","aux":"Heat-shock killed aux cells","surv":190},{"drug":"AmB","conc":"5","aux":"Heat-shock killed aux cells","surv":76},
{"drug":"AmB","conc":"7","aux":"No aux cells","surv":1.8},{"drug":"AmB","conc":"7","aux":"No aux cells","surv":0.9},{"drug":"AmB","conc":"7","aux":"No aux cells","surv":0.8},{"drug":"AmB","conc":"7","aux":"No aux cells","surv":0.3},{"drug":"AmB","conc":"7","aux":"No aux cells","surv":0.3},{"drug":"AmB","conc":"7","aux":"No aux cells","surv":0.3},{"drug":"AmB","conc":"7","aux":"No aux cells","surv":0.3},{"drug":"AmB","conc":"7","aux":"No aux cells","surv":0.3},{"drug":"AmB","conc":"7","aux":"No aux cells","surv":0.3},
{"drug":"AmB","conc":"7","aux":"Live aux cells","surv":19},{"drug":"AmB","conc":"7","aux":"Live aux cells","surv":5.8},{"drug":"AmB","conc":"7","aux":"Live aux cells","surv":4.9},{"drug":"AmB","conc":"7","aux":"Live aux cells","surv":2.3},{"drug":"AmB","conc":"7","aux":"Live aux cells","surv":0.75},{"drug":"AmB","conc":"7","aux":"Live aux cells","surv":0.7},{"drug":"AmB","conc":"7","aux":"Live aux cells","surv":0.45},{"drug":"AmB","conc":"7","aux":"Live aux cells","surv":0.3},{"drug":"AmB","conc":"7","aux":"Live aux cells","surv":0.3},{"drug":"AmB","conc":"7","aux":"Live aux cells","surv":0.3},
{"drug":"AmB","conc":"7","aux":"Heat-shock killed aux cells","surv":317},{"drug":"AmB","conc":"7","aux":"Heat-shock killed aux cells","surv":290},{"drug":"AmB","conc":"7","aux":"Heat-shock killed aux cells","surv":255},{"drug":"AmB","conc":"7","aux":"Heat-shock killed aux cells","surv":240},{"drug":"AmB","conc":"7","aux":"Heat-shock killed aux cells","surv":210},{"drug":"AmB","conc":"7","aux":"Heat-shock killed aux cells","surv":200},{"drug":"AmB","conc":"7","aux":"Heat-shock killed aux cells","surv":175},{"drug":"AmB","conc":"7","aux":"Heat-shock killed aux cells","surv":145},{"drug":"AmB","conc":"7","aux":"Heat-shock killed aux cells","surv":135},{"drug":"AmB","conc":"7","aux":"Heat-shock killed aux cells","surv":48},
{"drug":"AmB","conc":"10","aux":"No aux cells","surv":0.7},{"drug":"AmB","conc":"10","aux":"No aux cells","surv":0.3},{"drug":"AmB","conc":"10","aux":"No aux cells","surv":0.3},{"drug":"AmB","conc":"10","aux":"No aux cells","surv":0.3},{"drug":"AmB","conc":"10","aux":"No aux cells","surv":0.3},{"drug":"AmB","conc":"10","aux":"No aux cells","surv":0.3},{"drug":"AmB","conc":"10","aux":"No aux cells","surv":0.3},{"drug":"AmB","conc":"10","aux":"No aux cells","surv":0.3},
{"drug":"AmB","conc":"10","aux":"Live aux cells","surv":8},{"drug":"AmB","conc":"10","aux":"Live aux cells","surv":7},{"drug":"AmB","conc":"10","aux":"Live aux cells","surv":5.2},{"drug":"AmB","conc":"10","aux":"Live aux cells","surv":2.0},{"drug":"AmB","conc":"10","aux":"Live aux cells","surv":1.5},{"drug":"AmB","conc":"10","aux":"Live aux cells","surv":1.4},{"drug":"AmB","conc":"10","aux":"Live aux cells","surv":0.3},{"drug":"AmB","conc":"10","aux":"Live aux cells","surv":0.3},{"drug":"AmB","conc":"10","aux":"Live aux cells","surv":0.3},
{"drug":"AmB","conc":"10","aux":"Heat-shock killed aux cells","surv":300},{"drug":"AmB","conc":"10","aux":"Heat-shock killed aux cells","surv":270},{"drug":"AmB","conc":"10","aux":"Heat-shock killed aux cells","surv":250},{"drug":"AmB","conc":"10","aux":"Heat-shock killed aux cells","surv":230},{"drug":"AmB","conc":"10","aux":"Heat-shock killed aux cells","surv":215},{"drug":"AmB","conc":"10","aux":"Heat-shock killed aux cells","surv":200},{"drug":"AmB","conc":"10","aux":"Heat-shock killed aux cells","surv":190},{"drug":"AmB","conc":"10","aux":"Heat-shock killed aux cells","surv":55},{"drug":"AmB","conc":"10","aux":"Heat-shock killed aux cells","surv":48},{"drug":"AmB","conc":"10","aux":"Heat-shock killed aux cells","surv":42},{"drug":"AmB","conc":"10","aux":"Heat-shock killed aux cells","surv":38},
{"drug":"Filipin","conc":"2","aux":"No aux cells","surv":3.9},{"drug":"Filipin","conc":"2","aux":"No aux cells","surv":0.9},{"drug":"Filipin","conc":"2","aux":"No aux cells","surv":0.8},{"drug":"Filipin","conc":"2","aux":"No aux cells","surv":0.7},{"drug":"Filipin","conc":"2","aux":"No aux cells","surv":0.4},{"drug":"Filipin","conc":"2","aux":"No aux cells","surv":0.3},{"drug":"Filipin","conc":"2","aux":"No aux cells","surv":0.3},{"drug":"Filipin","conc":"2","aux":"No aux cells","surv":0.3},
{"drug":"Filipin","conc":"2","aux":"Live aux cells","surv":25},{"drug":"Filipin","conc":"2","aux":"Live aux cells","surv":23},{"drug":"Filipin","conc":"2","aux":"Live aux cells","surv":21},{"drug":"Filipin","conc":"2","aux":"Live aux cells","surv":16},{"drug":"Filipin","conc":"2","aux":"Live aux cells","surv":14},{"drug":"Filipin","conc":"2","aux":"Live aux cells","surv":13},{"drug":"Filipin","conc":"2","aux":"Live aux cells","surv":11},{"drug":"Filipin","conc":"2","aux":"Live aux cells","surv":9.5},{"drug":"Filipin","conc":"2","aux":"Live aux cells","surv":4.9},
{"drug":"Filipin","conc":"2","aux":"Heat-shock killed aux cells","surv":150},{"drug":"Filipin","conc":"2","aux":"Heat-shock killed aux cells","surv":135},{"drug":"Filipin","conc":"2","aux":"Heat-shock killed aux cells","surv":115},{"drug":"Filipin","conc":"2","aux":"Heat-shock killed aux cells","surv":100},{"drug":"Filipin","conc":"2","aux":"Heat-shock killed aux cells","surv":90},{"drug":"Filipin","conc":"2","aux":"Heat-shock killed aux cells","surv":80},{"drug":"Filipin","conc":"2","aux":"Heat-shock killed aux cells","surv":65},{"drug":"Filipin","conc":"2","aux":"Heat-shock killed aux cells","surv":60},{"drug":"Filipin","conc":"2","aux":"Heat-shock killed aux cells","surv":55},
{"drug":"Filipin","conc":"4","aux":"No aux cells","surv":0.63},{"drug":"Filipin","conc":"4","aux":"No aux cells","surv":0.3},{"drug":"Filipin","conc":"4","aux":"No aux cells","surv":0.3},{"drug":"Filipin","conc":"4","aux":"No aux cells","surv":0.3},{"drug":"Filipin","conc":"4","aux":"No aux cells","surv":0.3},{"drug":"Filipin","conc":"4","aux":"No aux cells","surv":0.3},{"drug":"Filipin","conc":"4","aux":"No aux cells","surv":0.3},{"drug":"Filipin","conc":"4","aux":"No aux cells","surv":0.3},
{"drug":"Filipin","conc":"4","aux":"Live aux cells","surv":10.5},{"drug":"Filipin","conc":"4","aux":"Live aux cells","surv":9},{"drug":"Filipin","conc":"4","aux":"Live aux cells","surv":8.5},{"drug":"Filipin","conc":"4","aux":"Live aux cells","surv":6.5},{"drug":"Filipin","conc":"4","aux":"Live aux cells","surv":0.9},{"drug":"Filipin","conc":"4","aux":"Live aux cells","surv":0.3},{"drug":"Filipin","conc":"4","aux":"Live aux cells","surv":0.3},{"drug":"Filipin","conc":"4","aux":"Live aux cells","surv":0.3},
{"drug":"Filipin","conc":"4","aux":"Heat-shock killed aux cells","surv":89},{"drug":"Filipin","conc":"4","aux":"Heat-shock killed aux cells","surv":45},{"drug":"Filipin","conc":"4","aux":"Heat-shock killed aux cells","surv":38},{"drug":"Filipin","conc":"4","aux":"Heat-shock killed aux cells","surv":33},{"drug":"Filipin","conc":"4","aux":"Heat-shock killed aux cells","surv":30},{"drug":"Filipin","conc":"4","aux":"Heat-shock killed aux cells","surv":28},{"drug":"Filipin","conc":"4","aux":"Heat-shock killed aux cells","surv":25},{"drug":"Filipin","conc":"4","aux":"Heat-shock killed aux cells","surv":22},{"drug":"Filipin","conc":"4","aux":"Heat-shock killed aux cells","surv":14},
{"drug":"Filipin","conc":"6","aux":"No aux cells","surv":0.9},{"drug":"Filipin","conc":"6","aux":"No aux cells","surv":0.3},{"drug":"Filipin","conc":"6","aux":"No aux cells","surv":0.3},{"drug":"Filipin","conc":"6","aux":"No aux cells","surv":0.3},{"drug":"Filipin","conc":"6","aux":"No aux cells","surv":0.3},{"drug":"Filipin","conc":"6","aux":"No aux cells","surv":0.3},{"drug":"Filipin","conc":"6","aux":"No aux cells","surv":0.3},{"drug":"Filipin","conc":"6","aux":"No aux cells","surv":0.3},
{"drug":"Filipin","conc":"6","aux":"Live aux cells","surv":7.4},{"drug":"Filipin","conc":"6","aux":"Live aux cells","surv":6.5},{"drug":"Filipin","conc":"6","aux":"Live aux cells","surv":6},{"drug":"Filipin","conc":"6","aux":"Live aux cells","surv":1.7},{"drug":"Filipin","conc":"6","aux":"Live aux cells","surv":0.3},{"drug":"Filipin","conc":"6","aux":"Live aux cells","surv":0.3},{"drug":"Filipin","conc":"6","aux":"Live aux cells","surv":0.3},{"drug":"Filipin","conc":"6","aux":"Live aux cells","surv":0.3},
{"drug":"Filipin","conc":"6","aux":"Heat-shock killed aux cells","surv":14},{"drug":"Filipin","conc":"6","aux":"Heat-shock killed aux cells","surv":9.5},{"drug":"Filipin","conc":"6","aux":"Heat-shock killed aux cells","surv":7.5},{"drug":"Filipin","conc":"6","aux":"Heat-shock killed aux cells","surv":6.5},{"drug":"Filipin","conc":"6","aux":"Heat-shock killed aux cells","surv":6},{"drug":"Filipin","conc":"6","aux":"Heat-shock killed aux cells","surv":5.5},{"drug":"Filipin","conc":"6","aux":"Heat-shock killed aux cells","surv":4.5},{"drug":"Filipin","conc":"6","aux":"Heat-shock killed aux cells","surv":4},{"drug":"Filipin","conc":"6","aux":"Heat-shock killed aux cells","surv":0.3},
{"drug":"Natamycin","conc":"20","aux":"No aux cells","surv":42},{"drug":"Natamycin","conc":"20","aux":"No aux cells","surv":35},{"drug":"Natamycin","conc":"20","aux":"No aux cells","surv":30},{"drug":"Natamycin","conc":"20","aux":"No aux cells","surv":25},{"drug":"Natamycin","conc":"20","aux":"No aux cells","surv":20},{"drug":"Natamycin","conc":"20","aux":"No aux cells","surv":18},{"drug":"Natamycin","conc":"20","aux":"No aux cells","surv":16},{"drug":"Natamycin","conc":"20","aux":"No aux cells","surv":14},{"drug":"Natamycin","conc":"20","aux":"No aux cells","surv":12},{"drug":"Natamycin","conc":"20","aux":"No aux cells","surv":10.5},
{"drug":"Natamycin","conc":"20","aux":"Live aux cells","surv":33},{"drug":"Natamycin","conc":"20","aux":"Live aux cells","surv":28},{"drug":"Natamycin","conc":"20","aux":"Live aux cells","surv":24},{"drug":"Natamycin","conc":"20","aux":"Live aux cells","surv":20},{"drug":"Natamycin","conc":"20","aux":"Live aux cells","surv":17},{"drug":"Natamycin","conc":"20","aux":"Live aux cells","surv":15},{"drug":"Natamycin","conc":"20","aux":"Live aux cells","surv":13},{"drug":"Natamycin","conc":"20","aux":"Live aux cells","surv":9},{"drug":"Natamycin","conc":"20","aux":"Live aux cells","surv":7.5},{"drug":"Natamycin","conc":"20","aux":"Live aux cells","surv":5},
{"drug":"Natamycin","conc":"20","aux":"Heat-shock killed aux cells","surv":85},{"drug":"Natamycin","conc":"20","aux":"Heat-shock killed aux cells","surv":70},{"drug":"Natamycin","conc":"20","aux":"Heat-shock killed aux cells","surv":58},{"drug":"Natamycin","conc":"20","aux":"Heat-shock killed aux cells","surv":50},{"drug":"Natamycin","conc":"20","aux":"Heat-shock killed aux cells","surv":42},{"drug":"Natamycin","conc":"20","aux":"Heat-shock killed aux cells","surv":38},{"drug":"Natamycin","conc":"20","aux":"Heat-shock killed aux cells","surv":32},{"drug":"Natamycin","conc":"20","aux":"Heat-shock killed aux cells","surv":27},{"drug":"Natamycin","conc":"20","aux":"Heat-shock killed aux cells","surv":20},
{"drug":"Natamycin","conc":"30","aux":"No aux cells","surv":25},{"drug":"Natamycin","conc":"30","aux":"No aux cells","surv":14},{"drug":"Natamycin","conc":"30","aux":"No aux cells","surv":12.5},{"drug":"Natamycin","conc":"30","aux":"No aux cells","surv":11.5},{"drug":"Natamycin","conc":"30","aux":"No aux cells","surv":11},{"drug":"Natamycin","conc":"30","aux":"No aux cells","surv":9},{"drug":"Natamycin","conc":"30","aux":"No aux cells","surv":4.5},{"drug":"Natamycin","conc":"30","aux":"No aux cells","surv":3.5},{"drug":"Natamycin","conc":"30","aux":"No aux cells","surv":3},
{"drug":"Natamycin","conc":"30","aux":"Live aux cells","surv":22},{"drug":"Natamycin","conc":"30","aux":"Live aux cells","surv":13},{"drug":"Natamycin","conc":"30","aux":"Live aux cells","surv":11},{"drug":"Natamycin","conc":"30","aux":"Live aux cells","surv":10},{"drug":"Natamycin","conc":"30","aux":"Live aux cells","surv":9.5},{"drug":"Natamycin","conc":"30","aux":"Live aux cells","surv":8},{"drug":"Natamycin","conc":"30","aux":"Live aux cells","surv":3.5},{"drug":"Natamycin","conc":"30","aux":"Live aux cells","surv":3},{"drug":"Natamycin","conc":"30","aux":"Live aux cells","surv":2.1},
{"drug":"Natamycin","conc":"30","aux":"Heat-shock killed aux cells","surv":62},{"drug":"Natamycin","conc":"30","aux":"Heat-shock killed aux cells","surv":55},{"drug":"Natamycin","conc":"30","aux":"Heat-shock killed aux cells","surv":46},{"drug":"Natamycin","conc":"30","aux":"Heat-shock killed aux cells","surv":38},{"drug":"Natamycin","conc":"30","aux":"Heat-shock killed aux cells","surv":30},{"drug":"Natamycin","conc":"30","aux":"Heat-shock killed aux cells","surv":27},{"drug":"Natamycin","conc":"30","aux":"Heat-shock killed aux cells","surv":24},{"drug":"Natamycin","conc":"30","aux":"Heat-shock killed aux cells","surv":19},{"drug":"Natamycin","conc":"30","aux":"Heat-shock killed aux cells","surv":16},{"drug":"Natamycin","conc":"30","aux":"Heat-shock killed aux cells","surv":11},
{"drug":"Natamycin","conc":"40","aux":"No aux cells","surv":10.5},{"drug":"Natamycin","conc":"40","aux":"No aux cells","surv":7.5},{"drug":"Natamycin","conc":"40","aux":"No aux cells","surv":6.5},{"drug":"Natamycin","conc":"40","aux":"No aux cells","surv":5.5},{"drug":"Natamycin","conc":"40","aux":"No aux cells","surv":4.8},{"drug":"Natamycin","conc":"40","aux":"No aux cells","surv":4.5},{"drug":"Natamycin","conc":"40","aux":"No aux cells","surv":1.8},{"drug":"Natamycin","conc":"40","aux":"No aux cells","surv":0.8},{"drug":"Natamycin","conc":"40","aux":"No aux cells","surv":0.55},
{"drug":"Natamycin","conc":"40","aux":"Live aux cells","surv":10},{"drug":"Natamycin","conc":"40","aux":"Live aux cells","surv":9.5},{"drug":"Natamycin","conc":"40","aux":"Live aux cells","surv":9},{"drug":"Natamycin","conc":"40","aux":"Live aux cells","surv":8.5},{"drug":"Natamycin","conc":"40","aux":"Live aux cells","surv":8.2},{"drug":"Natamycin","conc":"40","aux":"Live aux cells","surv":2.0},{"drug":"Natamycin","conc":"40","aux":"Live aux cells","surv":0.3},{"drug":"Natamycin","conc":"40","aux":"Live aux cells","surv":0.3},{"drug":"Natamycin","conc":"40","aux":"Live aux cells","surv":0.3},
{"drug":"Natamycin","conc":"40","aux":"Heat-shock killed aux cells","surv":50},{"drug":"Natamycin","conc":"40","aux":"Heat-shock killed aux cells","surv":40},{"drug":"Natamycin","conc":"40","aux":"Heat-shock killed aux cells","surv":34},{"drug":"Natamycin","conc":"40","aux":"Heat-shock killed aux cells","surv":30},{"drug":"Natamycin","conc":"40","aux":"Heat-shock killed aux cells","surv":25},{"drug":"Natamycin","conc":"40","aux":"Heat-shock killed aux cells","surv":22},{"drug":"Natamycin","conc":"40","aux":"Heat-shock killed aux cells","surv":18},{"drug":"Natamycin","conc":"40","aux":"Heat-shock killed aux cells","surv":14},{"drug":"Natamycin","conc":"40","aux":"Heat-shock killed aux cells","surv":11},{"drug":"Natamycin","conc":"40","aux":"Heat-shock killed aux cells","surv":6.5},
{"drug":"Natamycin","conc":"50","aux":"No aux cells","surv":0.85},{"drug":"Natamycin","conc":"50","aux":"No aux cells","surv":0.65},{"drug":"Natamycin","conc":"50","aux":"No aux cells","surv":0.6},{"drug":"Natamycin","conc":"50","aux":"No aux cells","surv":0.5},{"drug":"Natamycin","conc":"50","aux":"No aux cells","surv":0.45},{"drug":"Natamycin","conc":"50","aux":"No aux cells","surv":0.4},{"drug":"Natamycin","conc":"50","aux":"No aux cells","surv":0.3},
{"drug":"Natamycin","conc":"50","aux":"Live aux cells","surv":3.6},{"drug":"Natamycin","conc":"50","aux":"Live aux cells","surv":2.3},{"drug":"Natamycin","conc":"50","aux":"Live aux cells","surv":1.2},{"drug":"Natamycin","conc":"50","aux":"Live aux cells","surv":0.65},{"drug":"Natamycin","conc":"50","aux":"Live aux cells","surv":0.3},
{"drug":"Natamycin","conc":"50","aux":"Heat-shock killed aux cells","surv":15},{"drug":"Natamycin","conc":"50","aux":"Heat-shock killed aux cells","surv":10},{"drug":"Natamycin","conc":"50","aux":"Heat-shock killed aux cells","surv":6.4},{"drug":"Natamycin","conc":"50","aux":"Heat-shock killed aux cells","surv":4},{"drug":"Natamycin","conc":"50","aux":"Heat-shock killed aux cells","surv":2.6},
{"drug":"Nystatin","conc":"1","aux":"No aux cells","surv":36},{"drug":"Nystatin","conc":"1","aux":"No aux cells","surv":30},{"drug":"Nystatin","conc":"1","aux":"No aux cells","surv":26},{"drug":"Nystatin","conc":"1","aux":"No aux cells","surv":22},{"drug":"Nystatin","conc":"1","aux":"No aux cells","surv":19},{"drug":"Nystatin","conc":"1","aux":"No aux cells","surv":17},{"drug":"Nystatin","conc":"1","aux":"No aux cells","surv":15},{"drug":"Nystatin","conc":"1","aux":"No aux cells","surv":13},{"drug":"Nystatin","conc":"1","aux":"No aux cells","surv":9},
{"drug":"Nystatin","conc":"1","aux":"Live aux cells","surv":33},{"drug":"Nystatin","conc":"1","aux":"Live aux cells","surv":26},{"drug":"Nystatin","conc":"1","aux":"Live aux cells","surv":19},{"drug":"Nystatin","conc":"1","aux":"Live aux cells","surv":14},{"drug":"Nystatin","conc":"1","aux":"Live aux cells","surv":12.5},{"drug":"Nystatin","conc":"1","aux":"Live aux cells","surv":12},{"drug":"Nystatin","conc":"1","aux":"Live aux cells","surv":11},{"drug":"Nystatin","conc":"1","aux":"Live aux cells","surv":10},{"drug":"Nystatin","conc":"1","aux":"Live aux cells","surv":8.5},
{"drug":"Nystatin","conc":"1","aux":"Heat-shock killed aux cells","surv":42},{"drug":"Nystatin","conc":"1","aux":"Heat-shock killed aux cells","surv":38},{"drug":"Nystatin","conc":"1","aux":"Heat-shock killed aux cells","surv":34},{"drug":"Nystatin","conc":"1","aux":"Heat-shock killed aux cells","surv":31},{"drug":"Nystatin","conc":"1","aux":"Heat-shock killed aux cells","surv":29.5},{"drug":"Nystatin","conc":"1","aux":"Heat-shock killed aux cells","surv":28},{"drug":"Nystatin","conc":"1","aux":"Heat-shock killed aux cells","surv":26},{"drug":"Nystatin","conc":"1","aux":"Heat-shock killed aux cells","surv":22},{"drug":"Nystatin","conc":"1","aux":"Heat-shock killed aux cells","surv":18},
{"drug":"Nystatin","conc":"1.25","aux":"No aux cells","surv":10},{"drug":"Nystatin","conc":"1.25","aux":"No aux cells","surv":9.5},{"drug":"Nystatin","conc":"1.25","aux":"No aux cells","surv":8.5},{"drug":"Nystatin","conc":"1.25","aux":"No aux cells","surv":4},{"drug":"Nystatin","conc":"1.25","aux":"No aux cells","surv":3.7},{"drug":"Nystatin","conc":"1.25","aux":"No aux cells","surv":3.6},{"drug":"Nystatin","conc":"1.25","aux":"No aux cells","surv":3.5},{"drug":"Nystatin","conc":"1.25","aux":"No aux cells","surv":3.2},
{"drug":"Nystatin","conc":"1.25","aux":"Live aux cells","surv":17},{"drug":"Nystatin","conc":"1.25","aux":"Live aux cells","surv":14},{"drug":"Nystatin","conc":"1.25","aux":"Live aux cells","surv":12},{"drug":"Nystatin","conc":"1.25","aux":"Live aux cells","surv":6.5},{"drug":"Nystatin","conc":"1.25","aux":"Live aux cells","surv":6.2},{"drug":"Nystatin","conc":"1.25","aux":"Live aux cells","surv":6},{"drug":"Nystatin","conc":"1.25","aux":"Live aux cells","surv":5.8},{"drug":"Nystatin","conc":"1.25","aux":"Live aux cells","surv":5.5},{"drug":"Nystatin","conc":"1.25","aux":"Live aux cells","surv":2.4},
{"drug":"Nystatin","conc":"1.25","aux":"Heat-shock killed aux cells","surv":44},{"drug":"Nystatin","conc":"1.25","aux":"Heat-shock killed aux cells","surv":30},{"drug":"Nystatin","conc":"1.25","aux":"Heat-shock killed aux cells","surv":24},{"drug":"Nystatin","conc":"1.25","aux":"Heat-shock killed aux cells","surv":20},{"drug":"Nystatin","conc":"1.25","aux":"Heat-shock killed aux cells","surv":16},{"drug":"Nystatin","conc":"1.25","aux":"Heat-shock killed aux cells","surv":15},{"drug":"Nystatin","conc":"1.25","aux":"Heat-shock killed aux cells","surv":12},{"drug":"Nystatin","conc":"1.25","aux":"Heat-shock killed aux cells","surv":9},{"drug":"Nystatin","conc":"1.25","aux":"Heat-shock killed aux cells","surv":8.5},
{"drug":"Nystatin","conc":"1.5","aux":"No aux cells","surv":14},{"drug":"Nystatin","conc":"1.5","aux":"No aux cells","surv":7},{"drug":"Nystatin","conc":"1.5","aux":"No aux cells","surv":4.8},{"drug":"Nystatin","conc":"1.5","aux":"No aux cells","surv":4},{"drug":"Nystatin","conc":"1.5","aux":"No aux cells","surv":2.5},{"drug":"Nystatin","conc":"1.5","aux":"No aux cells","surv":2.2},{"drug":"Nystatin","conc":"1.5","aux":"No aux cells","surv":1.8},{"drug":"Nystatin","conc":"1.5","aux":"No aux cells","surv":1.5},{"drug":"Nystatin","conc":"1.5","aux":"No aux cells","surv":0.3},
{"drug":"Nystatin","conc":"1.5","aux":"Live aux cells","surv":9},{"drug":"Nystatin","conc":"1.5","aux":"Live aux cells","surv":5},{"drug":"Nystatin","conc":"1.5","aux":"Live aux cells","surv":3.5},{"drug":"Nystatin","conc":"1.5","aux":"Live aux cells","surv":2.5},{"drug":"Nystatin","conc":"1.5","aux":"Live aux cells","surv":1.8},{"drug":"Nystatin","conc":"1.5","aux":"Live aux cells","surv":1.5},{"drug":"Nystatin","conc":"1.5","aux":"Live aux cells","surv":1.2},{"drug":"Nystatin","conc":"1.5","aux":"Live aux cells","surv":0.9},{"drug":"Nystatin","conc":"1.5","aux":"Live aux cells","surv":0.8},{"drug":"Nystatin","conc":"1.5","aux":"Live aux cells","surv":0.7},
{"drug":"Nystatin","conc":"1.5","aux":"Heat-shock killed aux cells","surv":28},{"drug":"Nystatin","conc":"1.5","aux":"Heat-shock killed aux cells","surv":25},{"drug":"Nystatin","conc":"1.5","aux":"Heat-shock killed aux cells","surv":23},{"drug":"Nystatin","conc":"1.5","aux":"Heat-shock killed aux cells","surv":20},{"drug":"Nystatin","conc":"1.5","aux":"Heat-shock killed aux cells","surv":12},{"drug":"Nystatin","conc":"1.5","aux":"Heat-shock killed aux cells","surv":11.5},{"drug":"Nystatin","conc":"1.5","aux":"Heat-shock killed aux cells","surv":11},{"drug":"Nystatin","conc":"1.5","aux":"Heat-shock killed aux cells","surv":10},{"drug":"Nystatin","conc":"1.5","aux":"Heat-shock killed aux cells","surv":9},{"drug":"Nystatin","conc":"1.5","aux":"Heat-shock killed aux cells","surv":2.4},
{"drug":"Nystatin","conc":"2","aux":"No aux cells","surv":0.85},{"drug":"Nystatin","conc":"2","aux":"No aux cells","surv":0.6},{"drug":"Nystatin","conc":"2","aux":"No aux cells","surv":0.55},{"drug":"Nystatin","conc":"2","aux":"No aux cells","surv":0.5},{"drug":"Nystatin","conc":"2","aux":"No aux cells","surv":0.42},{"drug":"Nystatin","conc":"2","aux":"No aux cells","surv":0.38},{"drug":"Nystatin","conc":"2","aux":"No aux cells","surv":0.3},
{"drug":"Nystatin","conc":"2","aux":"Live aux cells","surv":1.9},{"drug":"Nystatin","conc":"2","aux":"Live aux cells","surv":1.5},{"drug":"Nystatin","conc":"2","aux":"Live aux cells","surv":1.3},{"drug":"Nystatin","conc":"2","aux":"Live aux cells","surv":1.2},{"drug":"Nystatin","conc":"2","aux":"Live aux cells","surv":1.1},{"drug":"Nystatin","conc":"2","aux":"Live aux cells","surv":0.95},{"drug":"Nystatin","conc":"2","aux":"Live aux cells","surv":0.7},
{"drug":"Nystatin","conc":"2","aux":"Heat-shock killed aux cells","surv":8},{"drug":"Nystatin","conc":"2","aux":"Heat-shock killed aux cells","surv":6.5},{"drug":"Nystatin","conc":"2","aux":"Heat-shock killed aux cells","surv":5.8},{"drug":"Nystatin","conc":"2","aux":"Heat-shock killed aux cells","surv":5.4},{"drug":"Nystatin","conc":"2","aux":"Heat-shock killed aux cells","surv":5},{"drug":"Nystatin","conc":"2","aux":"Heat-shock killed aux cells","surv":4.5},{"drug":"Nystatin","conc":"2","aux":"Heat-shock killed aux cells","surv":4}]
}
}
